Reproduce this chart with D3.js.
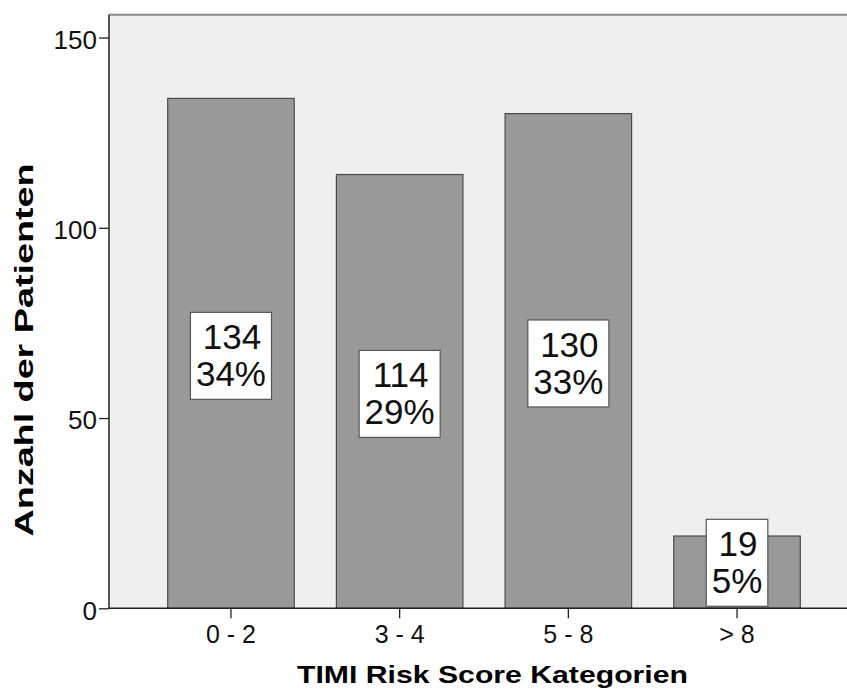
<!DOCTYPE html>
<html>
<head>
<meta charset="utf-8">
<script src="https://cdn.jsdelivr.net/npm/d3@7"></script>
<style>
  html, body { margin: 0; padding: 0; background: #ffffff; }
  svg { display: block; font-family: "Liberation Sans", Arial, sans-serif; }
</style>
</head>
<body>
<svg id="chart" width="847" height="690"></svg>
<script>
// TIMI risk score categories and patient counts
const categories = ["0 - 2", "3 - 4", "5 - 8", "> 8"];
const counts = [134, 114, 130, 19];
const percents = ["34%", "29%", "33%", "5%"];
const yTickValues = [0, 50, 100, 150];

const svg = d3.select("#chart");
const W = 847, H = 690;
const plot = { left: 109, right: 859, top: 14.7, bottom: 608.3 };

const x = d3.scaleBand()
  .domain(categories)
  .range([plot.left, plot.right])
  .paddingInner(0.25)
  .paddingOuter(0.348);

const y = d3.scaleLinear()
  .domain([0, 156])
  .range([plot.bottom, plot.top]);

// plot background
svg.append("rect")
  .attr("x", plot.left).attr("y", plot.top)
  .attr("width", W - plot.left).attr("height", plot.bottom - plot.top)
  .attr("fill", "#efefef");

// top frame line
svg.append("line")
  .attr("x1", plot.left).attr("x2", W)
  .attr("y1", plot.top).attr("y2", plot.top)
  .attr("stroke", "#8a8a8a").attr("stroke-width", 2);

const data = categories.map((c, i) => ({ cat: c, n: counts[i], pct: percents[i] }));

// bars
svg.append("g").selectAll("rect")
  .data(data)
  .join("rect")
  .attr("x", d => x(d.cat))
  .attr("y", d => y(d.n))
  .attr("width", x.bandwidth())
  .attr("height", d => y(0) - y(d.n))
  .attr("fill", "#999999")
  .attr("stroke", "#4a4a4a")
  .attr("stroke-width", 1.2);

// y axis
const yAxis = svg.append("g")
  .attr("transform", `translate(${plot.left},0)`)
  .call(d3.axisLeft(y).tickValues(yTickValues).tickSize(10).tickSizeOuter(0).tickPadding(2));
yAxis.select(".domain").attr("stroke", "#222").attr("stroke-width", 1.5)
  .attr("d", `M0,${plot.top}V${plot.bottom}`);
yAxis.selectAll(".tick line").attr("stroke", "#222").attr("stroke-width", 1.3);
yAxis.selectAll(".tick text")
  .attr("font-size", 26).attr("fill", "#111").attr("dy", "0.42em")
  .attr("font-family", "Liberation Sans, Arial, sans-serif");

// x axis
const xAxis = svg.append("g")
  .attr("transform", `translate(0,${plot.bottom})`)
  .call(d3.axisBottom(x).tickSize(10).tickSizeOuter(0).tickPadding(7));
xAxis.select(".domain").attr("stroke", "#222").attr("stroke-width", 1.5)
  .attr("d", `M${plot.left},0H${W}`);
xAxis.selectAll(".tick line").attr("stroke", "#222").attr("stroke-width", 1.3);
xAxis.selectAll(".tick text")
  .attr("font-size", 25).attr("fill", "#111")
  .attr("font-family", "Liberation Sans, Arial, sans-serif");

// value labels: count and percentage in a white box
const fs = 35, lineGap = 37;
const labels = svg.append("g").selectAll("g")
  .data(data)
  .join("g");

labels.each(function(d) {
  const g = d3.select(this);
  const cx = x(d.cat) + x.bandwidth() / 2;
  const box = g.append("rect").attr("fill", "#ffffff").attr("stroke", "#555").attr("stroke-width", 1.2);
  const t1 = g.append("text").text(d.n).attr("font-size", fs).attr("text-anchor", "middle").attr("fill", "#111");
  const t2 = g.append("text").text(d.pct).attr("font-size", fs).attr("text-anchor", "middle").attr("fill", "#111");
  const w = Math.max(t1.node().getComputedTextLength(), t2.node().getComputedTextLength()) + 11;
  const h = 87;
  let cy = (y(d.n) + y(0)) / 2 + 2.5;
  let top = cy - h / 2;
  if (top + h > y(0) - 2) top = y(0) - 2 - h;
  box.attr("x", cx - w / 2).attr("y", top).attr("width", w).attr("height", h);
  t1.attr("x", cx + 1).attr("y", top + 37);
  t2.attr("x", cx).attr("y", top + 37 + lineGap);
});

// axis titles (wide bold lettering)
svg.append("text")
  .attr("x", 492.5).attr("y", 683.3)
  .attr("text-anchor", "middle")
  .attr("font-size", 24).attr("font-weight", "bold").attr("fill", "#000")
  .attr("textLength", 391).attr("lengthAdjust", "spacingAndGlyphs")
  .text("TIMI Risk Score Kategorien");

svg.append("text")
  .attr("transform", "translate(33,350) rotate(-90)")
  .attr("text-anchor", "middle")
  .attr("font-size", 25).attr("font-weight", "bold").attr("fill", "#000")
  .attr("textLength", 373).attr("lengthAdjust", "spacingAndGlyphs")
  .text("Anzahl der Patienten");
</script>
</body>
</html>
